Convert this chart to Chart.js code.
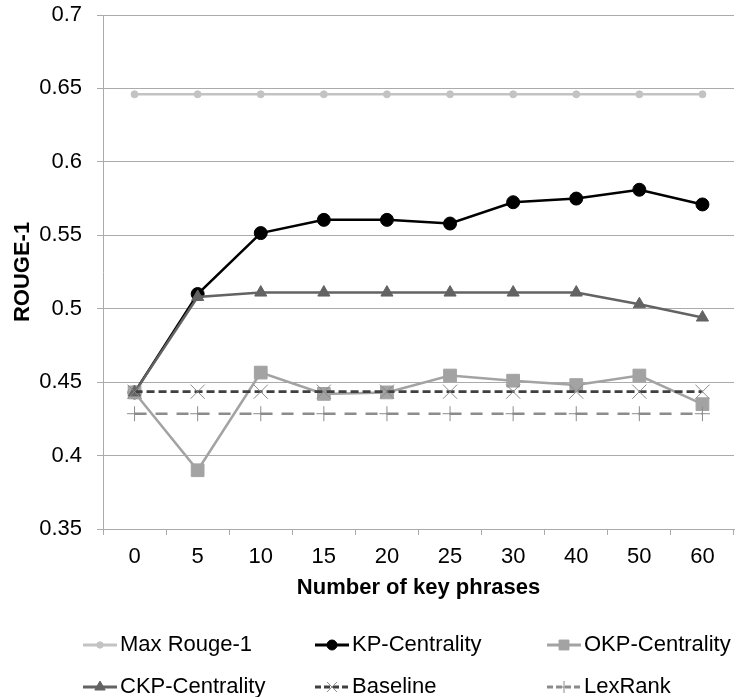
<!DOCTYPE html>
<html>
<head>
<meta charset="utf-8">
<script src="https://cdn.jsdelivr.net/npm/chart.js@4/dist/chart.umd.min.js"></script>
<style>
  html, body { margin: 0; padding: 0; background: #fff; overflow: hidden; }
  #wrap { width: 745px; height: 697px; position: relative; }
</style>
</head>
<body>
<div id="wrap"><canvas id="chart" width="745" height="697"></canvas></div>
<script>
// Number of key phrases on the x axis
const categories = ['0', '5', '10', '15', '20', '25', '30', '40', '50', '60'];

// ROUGE-1 scores per method
const maxRouge1     = [0.646, 0.646, 0.646, 0.646, 0.646, 0.646, 0.646, 0.646, 0.646, 0.646];
const kpCentrality  = [0.443, 0.510, 0.5515, 0.5605, 0.5605, 0.558, 0.5725, 0.575, 0.581, 0.571];
const okpCentrality = [0.443, 0.390, 0.4565, 0.442, 0.443, 0.4545, 0.451, 0.448, 0.4545, 0.435];
const ckpCentrality = [0.443, 0.508, 0.511, 0.511, 0.511, 0.511, 0.511, 0.511, 0.503, 0.494];
const baseline      = [0.4435, 0.4435, 0.4435, 0.4435, 0.4435, 0.4435, 0.4435, 0.4435, 0.4435, 0.4435];
const lexRank       = [0.4285, 0.4285, 0.4285, 0.4285, 0.4285, 0.4285, 0.4285, 0.4285, 0.4285, 0.4285];

// y axis ticks
const yTickValues = [0.35, 0.4, 0.45, 0.5, 0.55, 0.6, 0.65, 0.7];

const FONT = '"Liberation Sans", Arial, sans-serif';
Chart.defaults.font.family = FONT;
Chart.defaults.color = '#000';

const GRID = '#ababab';

const datasets = [
  { label: 'Max Rouge-1', data: maxRouge1, borderColor: '#c3c3c3', backgroundColor: '#c3c3c3',
    borderWidth: 2.5, pointStyle: 'circle', pointRadius: 3.5, legendRadius: 3.2, order: 6 },
  { label: 'KP-Centrality', data: kpCentrality, borderColor: '#000000', backgroundColor: '#000000',
    borderWidth: 2.5, pointStyle: 'circle', pointRadius: 6.5, legendRadius: 5, order: 5 },
  { label: 'OKP-Centrality', data: okpCentrality, borderColor: '#a3a3a3', backgroundColor: '#a3a3a3',
    borderWidth: 2.5, pointStyle: 'rect', pointRadius: 9, legendRadius: 7, order: 4 },
  { label: 'CKP-Centrality', data: ckpCentrality, borderColor: '#636363', backgroundColor: '#636363',
    borderWidth: 2.5, pointStyle: 'triangle', pointRadius: 7, legendRadius: 6, order: 3 },
  { label: 'Baseline', data: baseline, borderColor: '#404040', backgroundColor: '#8a8a8a',
    pointBorderColor: '#8a8a8a', pointBorderWidth: 1, borderWidth: 2.8, borderDash: [8, 4],
    pointStyle: 'crossRot', pointRadius: 10, legendRadius: 7, order: 2 },
  { label: 'LexRank', data: lexRank, borderColor: '#8c8c8c', backgroundColor: '#8c8c8c',
    pointBorderColor: '#8c8c8c', pointBorderWidth: 1, borderWidth: 2.5, borderDash: [12, 9],
    pointStyle: 'cross', pointRadius: 7.5, legendRadius: 6, order: 1 }
];

datasets.forEach(d => {
  d.fill = false;
  d.tension = 0;
  d.pointHoverRadius = d.pointRadius;
  if (!d.pointBorderColor) { d.pointBorderColor = d.borderColor; d.pointBorderWidth = 1; }
  d.pointBackgroundColor = d.backgroundColor;
});

// Legend laid out as a 3-column grid under the chart
const legendGrid = {
  id: 'legendGrid',
  afterDraw(chart) {
    const ctx = chart.ctx;
    const cols = [83, 315, 547];
    const rows = [645, 687];
    chart.data.datasets.forEach((ds, i) => {
      const x = cols[i % 3];
      const y = rows[Math.floor(i / 3)];
      ctx.save();
      ctx.strokeStyle = ds.borderColor;
      ctx.lineWidth = 3;
      ctx.setLineDash(ds.borderDash ? [6, 3] : []);
      ctx.beginPath();
      ctx.moveTo(x, y);
      ctx.lineTo(x + 34, y);
      ctx.stroke();
      ctx.setLineDash([]);
      ctx.fillStyle = ds.backgroundColor;
      ctx.strokeStyle = ds.pointBorderColor;
      ctx.lineWidth = ds.pointBorderWidth || 1;
      Chart.helpers.drawPoint(ctx, { pointStyle: ds.pointStyle, radius: ds.legendRadius, rotation: 0, borderWidth: ctx.lineWidth }, x + 17, y);
      ctx.fillStyle = '#000';
      ctx.font = '22px ' + FONT;
      ctx.textAlign = 'left';
      ctx.textBaseline = 'middle';
      ctx.fillText(ds.label, x + 37, y);
      ctx.restore();
    });
  }
};

new Chart(document.getElementById('chart'), {
  type: 'line',
  data: { labels: categories, datasets },
  plugins: [legendGrid],
  options: {
    responsive: false,
    animation: false,
    layout: { padding: { top: 15, right: 0, bottom: 96, left: 0 } },
    plugins: { legend: { display: false }, tooltip: { enabled: false } },
    scales: {
      x: {
        offset: true,
        grid: { offset: true, drawOnChartArea: false, tickLength: 6, color: GRID },
        border: { color: GRID },
        ticks: { font: { size: 22 }, color: '#000', padding: 9, autoSkip: false, maxRotation: 0 },
        title: { display: true, text: 'Number of key phrases', color: '#000',
                 font: { size: 22, weight: 'bold' }, padding: { top: 0, bottom: 0 } },
        afterFit: s => { s.height = 72; }
      },
      y: {
        min: 0.35,
        max: 0.7,
        afterBuildTicks: s => { s.ticks = yTickValues.map(v => ({ value: v })); },
        grid: { color: GRID, tickLength: 6 },
        border: { color: GRID },
        ticks: { font: { size: 22 }, color: '#000', padding: 15,
                 callback: v => String(+Number(v).toFixed(2)) },
        title: { display: true, text: 'ROUGE-1', color: '#000',
                 font: { size: 22, weight: 'bold' }, padding: { top: 10, bottom: 0 } },
        afterFit: s => { s.width = 103; s.paddingTop = 0; s.paddingBottom = 0; }
      }
    }
  }
});
</script>
</body>
</html>
